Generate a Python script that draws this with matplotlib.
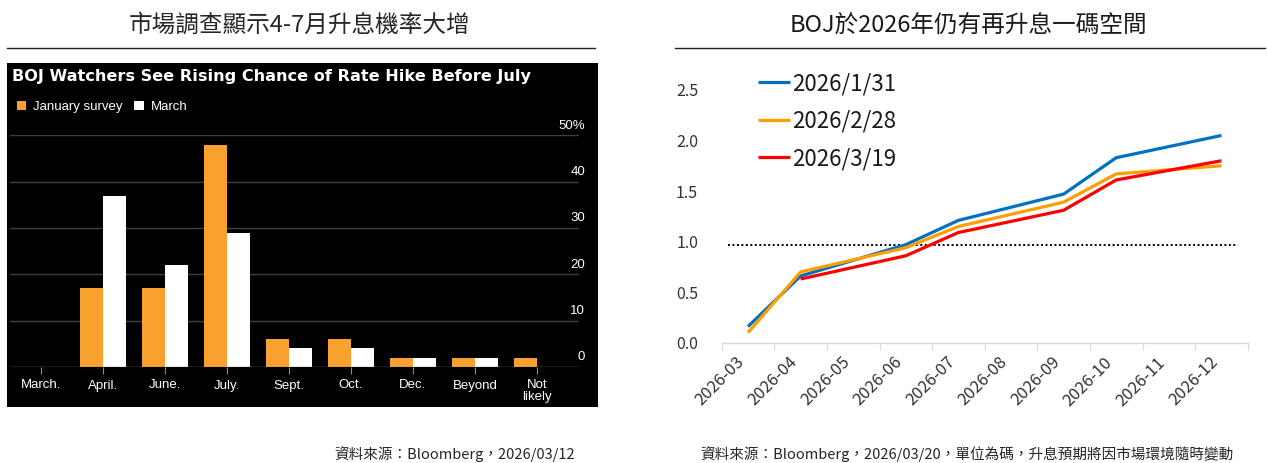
import numpy as np
import matplotlib
matplotlib.use("Agg")
import matplotlib.pyplot as plt
from matplotlib.patches import Rectangle
from matplotlib.lines import Line2D

plt.rcParams['font.family'] = ['Noto Sans CJK TC', 'DejaVu Sans']

# left chart: survey on timing of next BOJ hike (%)
bar_cats = ["March.", "April.", "June.", "July.", "Sept.", "Oct.", "Dec.", "Beyond", "Not\nlikely"]
jan_survey = [0, 17, 17, 48, 6, 6, 2, 2, 2]
march_survey = [0, 37, 22, 29, 4, 4, 2, 2, 0]
bar_yticks = [0, 10, 20, 30, 40, 50]

# right chart: implied hikes (in 25bp steps)
months = ["2026-03", "2026-04", "2026-05", "2026-06", "2026-07",
          "2026-08", "2026-09", "2026-10", "2026-11", "2026-12"]
nan = np.nan
s_0131 = [0.16, 0.66, nan, 0.97, 1.21, nan, 1.47, 1.83, nan, 2.05]
s_0228 = [0.10, 0.70, nan, 0.94, 1.15, nan, 1.39, 1.67, nan, 1.75]
s_0319 = [nan, 0.63, nan, 0.86, 1.09, nan, 1.31, 1.61, nan, 1.80]
series_names = ["2026/1/31", "2026/2/28", "2026/3/19"]
series_colors = ["#0070C0", "#FF9E00", "#FF0000"]
one_hike = 0.97

W, H = 1267, 463
fig = plt.figure(figsize=(W / 100, H / 100), dpi=100)
fig.patch.set_facecolor("white")


def fx(px):
    return px / W


def fy(py):
    return 1 - py / H


# titles, rules and footnotes
fig.text(fx(300), fy(25), "市場調查顯示4-7月升息機率大增", ha="center", va="center",
         fontsize=17, color="#262626")
fig.text(fx(968), fy(25), "BOJ於2026年仍有再升息一碼空間", ha="center", va="center",
         fontsize=17, color="#1a1a1a", fontweight="medium")
fig.add_artist(Line2D([fx(7), fx(595)], [fy(47.5), fy(47.5)], color="#222222", lw=1.0))
fig.add_artist(Line2D([fx(675), fx(1265)], [fy(47.5), fy(47.5)], color="#222222", lw=1.0))
fig.text(fx(575), fy(454), "資料來源：Bloomberg，2026/03/12", ha="right", va="center",
         fontsize=10.5, color="#262626")
fig.text(fx(700), fy(454), "資料來源：Bloomberg，2026/03/20，單位為碼，升息預期將因市場環境隨時變動",
         ha="left", va="center", fontsize=10.5, color="#262626")

# ---- left: black Bloomberg panel
fig.patches.append(Rectangle((fx(6.7), fy(407.3)), fx(597.7 - 6.7), (407.3 - 63.3) / H,
                             transform=fig.transFigure, facecolor="black", edgecolor="none", zorder=-5))
fig.text(fx(12), fy(76), "BOJ Watchers See Rising Chance of Rate Hike Before July",
         ha="left", va="center", fontsize=11.6, fontweight="bold", color="white",
         family=["DejaVu Sans"])

narrow = ["Liberation Sans Narrow", "Liberation Sans", "DejaVu Sans"]
ax1 = fig.add_axes([fx(10), fy(367), fx(569), (367 - 135.3) / H])
ax1.set_facecolor("none")
ax1.set_zorder(2)
x = np.arange(len(bar_cats))
bw = 0.375
b1 = ax1.bar(x - bw, jan_survey, bw, align="edge", color="#F9A12E", label="January survey", zorder=3)
b2 = ax1.bar(x, march_survey, bw, align="edge", color="white", label="March", zorder=3)
ax1.set_xlim(-0.5, 8.68)
ax1.set_ylim(0, 50)
for v in bar_yticks:
    ax1.axhline(v, color="#8c8c8c" if v == 0 else "#3f3f3f", lw=1.0, zorder=1 if v else 4)
    ax1.text(1.011, v + 0.8, "50%" if v == 50 else str(v), transform=ax1.get_yaxis_transform(),
             ha="right", va="bottom", fontsize=9.5, color="white", family=narrow)
for s in ax1.spines.values():
    s.set_visible(False)
ax1.set_yticks([])
ax1.set_xticks(x)
ax1.set_xticklabels(bar_cats, fontsize=9.5, color="white", family=narrow, linespacing=0.9)
ax1.tick_params(axis="x", length=5, color="#8c8c8c", pad=4)
ax1.legend(handles=[b1, b2], loc="upper left", bbox_to_anchor=(fx(10), fy(94)),
           bbox_transform=fig.transFigure, ncol=2, frameon=False, borderpad=0,
           handlelength=0.75, handleheight=0.75, handletextpad=0.5, columnspacing=0.9,
           prop={"family": narrow, "size": 9.5}, labelcolor="white")

# ---- right: implied hikes
ax2 = fig.add_axes([fx(721.7), fy(342.7), fx(526), (342.7 - 90) / H])
xm = np.arange(len(months))
for vals, name, col in zip([s_0131, s_0228, s_0319], series_names, series_colors):
    arr = np.array(vals, dtype=float)
    ok = ~np.isnan(arr)
    ax2.plot(xm[ok], arr[ok], color=col, lw=2.3, label=name, solid_capstyle="butt", zorder=3)
ax2.hlines(one_hike, -0.38, 9.32, colors="black", linestyles=(0, (1, 1.3)), lw=1.4, zorder=2)
ax2.set_xlim(-0.5, len(months) - 0.5)
ax2.set_ylim(0, 2.5)
ax2.set_yticks(np.arange(0, 2.51, 0.5))
ax2.set_yticklabels([f"{v:.1f}" for v in np.arange(0, 2.51, 0.5)])
ax2.tick_params(axis="y", length=0, pad=17, labelsize=11.5, labelcolor="#333333")
for k in ["top", "right", "left"]:
    ax2.spines[k].set_visible(False)
ax2.spines["bottom"].set_color("#d9d9d9")
ax2.spines["bottom"].set_linewidth(1.0)
ax2.set_xticks(np.arange(-0.5, len(months), 1))
ax2.set_xticklabels([])
ax2.tick_params(axis="x", which="major", length=5, color="#d9d9d9")
ax2.set_xticks(xm, minor=True)
ax2.set_xticklabels(months, minor=True, rotation=45, ha="right", va="top",
                    fontsize=12, color="#333333")
ax2.tick_params(axis="x", which="minor", length=0, pad=8)
ax2.legend(loc="upper left", bbox_to_anchor=(fx(747), fy(61)), bbox_transform=fig.transFigure,
           frameon=False, borderpad=0, handlelength=1.45, handletextpad=0.1,
           labelspacing=0.65, fontsize=16, labelcolor="#1a1a1a")

fig.savefig("out.png", dpi=100, facecolor="white")
